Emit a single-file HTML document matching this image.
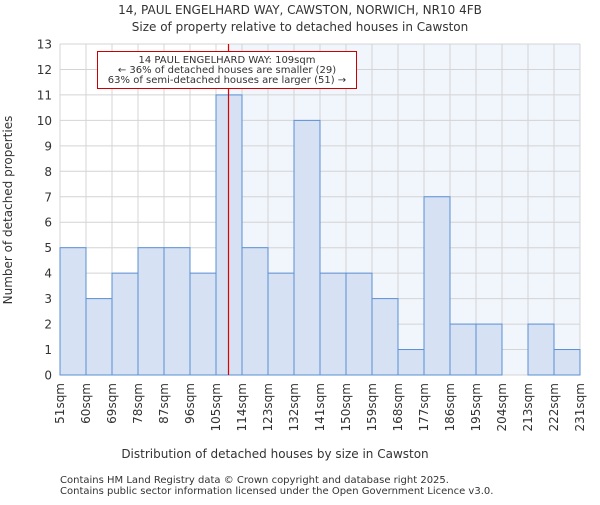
<!DOCTYPE html>
<html><head><meta charset="utf-8"><style>
body{margin:0;background:#fff;}
svg text{font-family:"DejaVu Sans","Liberation Sans",sans-serif;fill:#333;}
</style></head><body>
<svg id="chart" width="600" height="500" viewBox="0 0 600 500">
<text x="300" y="14" text-anchor="middle" font-size="12">14, PAUL ENGELHARD WAY, CAWSTON, NORWICH, NR10 4FB</text>
<text x="300" y="31" text-anchor="middle" font-size="12">Size of property relative to detached houses in Cawston</text>
<g id="plot"></g>
<text x="275" y="458" text-anchor="middle" font-size="12">Distribution of detached houses by size in Cawston</text>
<text x="12" y="210" text-anchor="middle" font-size="12" transform="rotate(-90 12 210)">Number of detached properties</text>
<text x="60" y="483" font-size="10">Contains HM Land Registry data © Crown copyright and database right 2025.</text>
<text x="60" y="494" font-size="10">Contains public sector information licensed under the Open Government Licence v3.0.</text>
</svg>
<script>
const binLabels=["51sqm","60sqm","69sqm","78sqm","87sqm","96sqm","105sqm","114sqm","123sqm","132sqm","141sqm","150sqm","159sqm","168sqm","177sqm","186sqm","195sqm","204sqm","213sqm","222sqm","231sqm"];
const binEdges=[51,60,69,78,87,96,105,114,123,132,141,150,159,168,177,186,195,204,213,222,231];
const counts=[5,3,4,5,5,4,11,5,4,10,4,4,3,1,7,2,2,0,2,1];
const yTicks=[0,1,2,3,4,5,6,7,8,9,10,11,12,13];
const propertySize=109;
const NS="http://www.w3.org/2000/svg";
const L=60,R=580,T=44,B=375,yMax=13;
const nb=counts.length;
function xBin(i){return L+(R-L)*i/nb;}
function xVal(v){let i=0;while(i<nb-1&&v>binEdges[i+1])i++;return xBin(i)+(v-binEdges[i])/(binEdges[i+1]-binEdges[i])*(R-L)/nb;}
function y(v){return B-(B-T)*v/yMax;}
const g=document.getElementById('plot');
function mk(t,a){const e=document.createElementNS(NS,t);for(const k in a)e.setAttribute(k,a[k]);g.appendChild(e);return e;}
const px=Math.round(xVal(propertySize))+0.5;
let e=mk('rect',{x:px,y:T,width:R-px,height:B-T,fill:'#f1f5fc'});


yTicks.forEach(t=>{
 let l=mk('line',{x1:L,x2:R,y1:y(t),y2:y(t),stroke:'#d4d4d4','stroke-width':1});
 
 
 let tx=mk('text',{x:L-8,y:y(t)+4.5,'text-anchor':'end','font-size':12});
 tx.textContent=t;
 
 
});
binLabels.forEach((lab,i)=>{
 const x=xBin(i);
 let l=mk('line',{x1:x,x2:x,y1:T,y2:B,stroke:'#d4d4d4','stroke-width':1});
 
 
 let tx=mk('text',{x:x+4,y:B+8,'text-anchor':'end','font-size':12,transform:`rotate(-90 ${x+4} ${B+8})`});
 tx.textContent=lab;
 
 
});
counts.forEach((c,i)=>{
 if(c<=0)return;
 let r=mk('rect',{x:xBin(i),y:y(c),width:(R-L)/nb,height:B-y(c),fill:'#d6e2f3',stroke:'#5b8fd6','stroke-width':1});
 
 
});
let ln=mk('line',{x1:px,x2:px,y1:T,y2:B,stroke:'#e00000','stroke-width':1.2});


let box=mk('rect',{x:97.5,y:51.5,width:259,height:37,fill:'#fff',stroke:'#c00','stroke-width':1});


["14 PAUL ENGELHARD WAY: 109sqm","← 36% of detached houses are smaller (29)","63% of semi-detached houses are larger (51) →"].forEach((s,i)=>{
 let t=mk('text',{x:227,y:63+i*10,'text-anchor':'middle','font-size':10});
 t.textContent=s;
 
 
});
</script>
</body></html>
